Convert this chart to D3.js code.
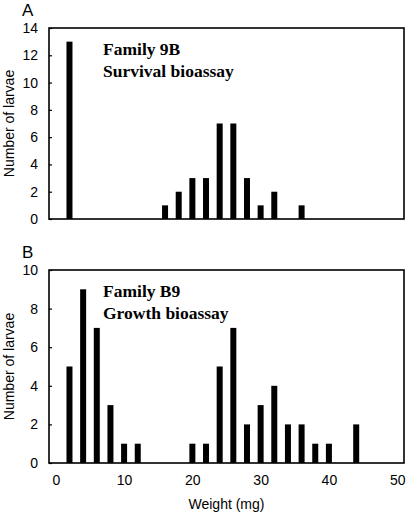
<!DOCTYPE html>
<html><head><meta charset="utf-8">
<script src="https://cdn.jsdelivr.net/npm/d3@7"></script>
<style>
body{margin:0;background:#fff;}
svg{display:block;}
</style></head>
<body>
<svg id="chart" width="410" height="515"></svg>
<script>
// Data
const weightsA = [2, 16, 18, 20, 22, 24, 26, 28, 30, 32, 36];
const countsA  = [13, 1, 2, 3, 3, 7, 7, 3, 1, 2, 1];
const weightsB = [2, 4, 6, 8, 10, 12, 20, 22, 24, 26, 28, 30, 32, 34, 36, 38, 40, 44];
const countsB  = [5, 9, 7, 3, 1, 1, 1, 1, 5, 7, 2, 3, 4, 2, 2, 1, 1, 2];
const yTicksA = [0, 2, 4, 6, 8, 10, 12, 14];
const yTicksB = [0, 2, 4, 6, 8, 10];
const xTicks = [0, 10, 20, 30, 40, 50];
const panelLabels = ["A", "B"];
const annotA = ["Family 9B", "Survival bioassay"];
const annotB = ["Family B9", "Growth bioassay"];
const yTitle = "Number of larvae";
const xTitle = "Weight (mg)";

const SANS = "'Liberation Sans', Arial, sans-serif";
const SERIF = "'Liberation Serif', 'Times New Roman', serif";

const svg = d3.select("#chart");
const left = 49, right = 404;
const x = d3.scaleLinear().domain([-1, 51]).range([left, right]);
const barW = 6;

function panel(top, bottom, yMax, yTicks, weights, counts, label, annot, showX) {
  const y = d3.scaleLinear().domain([0, yMax]).range([bottom, top]);
  const g = svg.append("g");
  g.selectAll("rect.bar").data(weights.map((w, i) => ({w, c: counts[i]})))
    .enter().append("rect")
    .attr("x", d => x(d.w) - barW / 2)
    .attr("y", d => y(d.c))
    .attr("width", barW)
    .attr("height", d => y(0) - y(d.c))
    .attr("fill", "#000");
  const ya = g.append("g").attr("transform", `translate(${left},0)`)
    .call(d3.axisLeft(y).tickValues(yTicks).tickSize(-3).tickPadding(11).tickFormat(d3.format("d")));
  ya.select(".domain").remove();
  ya.selectAll("line").attr("stroke", "#000").attr("stroke-width", 1.2);
  ya.selectAll("text").style("font-size", "14px").style("font-family", SANS).attr("fill", "#000");
  g.append("rect").attr("x", left).attr("y", top).attr("width", right - left).attr("height", bottom - top)
    .attr("fill", "none").attr("stroke", "#000").attr("stroke-width", 1.6);
  if (showX) {
    const xa = g.append("g").attr("transform", `translate(0,${bottom})`)
      .call(d3.axisBottom(x).tickValues(xTicks).tickSize(0).tickPadding(12));
    xa.select(".domain").remove();
    xa.selectAll("text").style("font-size", "14px").style("font-family", SANS).attr("fill", "#000");
  }
  g.append("text")
    .attr("transform", `translate(14,${(top + bottom) / 2}) rotate(-90)`)
    .attr("text-anchor", "middle").style("font-size", "14px").style("font-family", SANS).text(yTitle);
  g.append("text").attr("x", 22).attr("y", top - 12)
    .style("font-size", "17px").style("font-family", SANS).text(label);
  annot.forEach((t, i) => {
    g.append("text").attr("x", 103).attr("y", top + 27 + i * 21.5)
      .style("font-family", SERIF).style("font-weight", "bold").style("font-size", "17.5px").text(t);
  });
}

panel(28, 219, 14, yTicksA, weightsA, countsA, panelLabels[0], annotA, false);
panel(270, 463, 10, yTicksB, weightsB, countsB, panelLabels[1], annotB, true);

svg.append("text").attr("x", (left + right) / 2).attr("y", 509)
  .attr("text-anchor", "middle").style("font-size", "14px").style("font-family", SANS).text(xTitle);
</script>
</body></html>
